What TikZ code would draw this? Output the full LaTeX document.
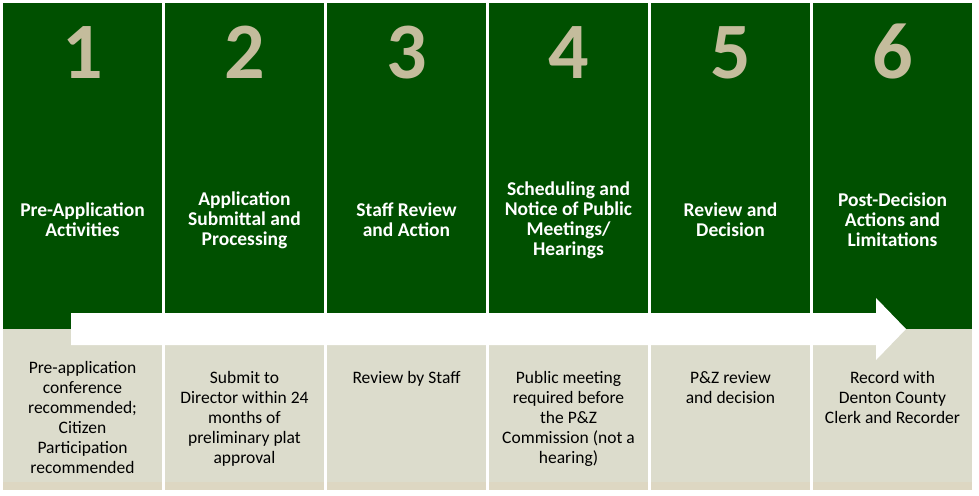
\documentclass[tikz,border=0pt]{standalone}
\usepackage{fontspec}
\setmainfont{Carlito}
\usepackage{tikz}
\definecolor{stagegreen}{HTML}{005000}
\definecolor{stagetan}{HTML}{C4BC9C}
\definecolor{notebeige}{HTML}{DCDCCC}
\definecolor{notefoot}{HTML}{DDD7C2}

\begin{document}
\begin{tikzpicture}
[x=1pt,y=-1pt,
 stage/.style={fill=stagegreen,inner sep=0pt,minimum width=159pt,minimum height=326pt,anchor=north west},
 note/.style={fill=notebeige,inner sep=0pt,minimum width=159pt,minimum height=153pt,anchor=north west},
 foot/.style={fill=notefoot,inner sep=0pt,minimum width=159pt,minimum height=8pt,anchor=north west},
 num/.style={text=stagetan,font=\fontsize{80}{80}\selectfont\bfseries,anchor=base,inner sep=0pt},
 title/.style={text=white,font=\fontsize{19.5}{20}\selectfont\bfseries,align=center,inner sep=0pt},
 desc/.style={text=black,font=\fontsize{17.5}{20}\selectfont,align=center,inner sep=0pt,anchor=north},]
\useasboundingbox (0,0) rectangle (979,495);
\fill[white] (0,0) rectangle (979,495);

% green stage columns
\node (S1) at (3,3)[stage]{};
\node (S2) at (165,3)[stage]{};
\node (S3) at (327,3)[stage]{};
\node (S4) at (489,3)[stage]{};
\node (S5) at (651,3)[stage]{};
\node (S6) at (813,3)[stage]{};

% beige note boxes
\node (B1) at (3,329)[note]{};
\node (B2) at (165,329)[note]{};
\node (B3) at (327,329)[note]{};
\node (B4) at (489,329)[note]{};
\node (B5) at (651,329)[note]{};
\node (B6) at (813,329)[note]{};
\node (F1) at (3,482)[foot]{};
\node (F2) at (165,482)[foot]{};
\node (F3) at (327,482)[foot]{};
\node (F4) at (489,482)[foot]{};
\node (F5) at (651,482)[foot]{};
\node (F6) at (813,482)[foot]{};

% step numbers
\node (N1) at (82.5,78)[num]{1};
\node (N2) at (244.5,78)[num]{2};
\node (N3) at (406.5,78)[num]{3};
\node (N4) at (568.5,78)[num]{4};
\node (N5) at (730.5,78)[num]{5};
\node (N6) at (892.5,78)[num]{6};

% stage titles
\node (T1) at (82.5,220)[title]{Pre-Application\\Activities};
\node (T2) at (244.5,220)[title]{Application\\Submittal and\\Processing};
\node (T3) at (406.5,220)[title]{Staff Review\\and Action};
\node (T4) at (568.5,220)[title]{Scheduling and\\Notice of Public\\Meetings/\\Hearings};
\node (T5) at (730.5,220)[title]{Review and\\Decision};
\node (T6) at (892.5,220)[title]{Post-Decision\\Actions and\\Limitations};

% white arrow across the row
\coordinate (tail) at (71,329);
\coordinate (tip) at (906,329);
\fill[white] (tail) ++(0,-16) -- ++(805,0) -- ++(0,-15) -- (tip) -- ++(-30,31) -- ++(0,-15) -- ++(-805,0) -- cycle;

% notes
\node (D1) at (82.5,361)[desc]{Pre-application\\conference\\recommended;\\Citizen\\Participation\\recommended};
\node (D2) at (244.5,371)[desc]{Submit to\\Director within 24\\months of\\preliminary plat\\approval};
\node (D3) at (406.5,371)[desc]{Review by Staff};
\node (D4) at (568.5,371)[desc]{Public meeting\\required before\\the P\&Z\\Commission (not a\\hearing)};
\node (D5) at (730.5,371)[desc]{P\&Z review\\and decision};
\node (D6) at (892.5,371)[desc]{Record with\\Denton County\\Clerk and Recorder};

\end{tikzpicture}
\end{document}
